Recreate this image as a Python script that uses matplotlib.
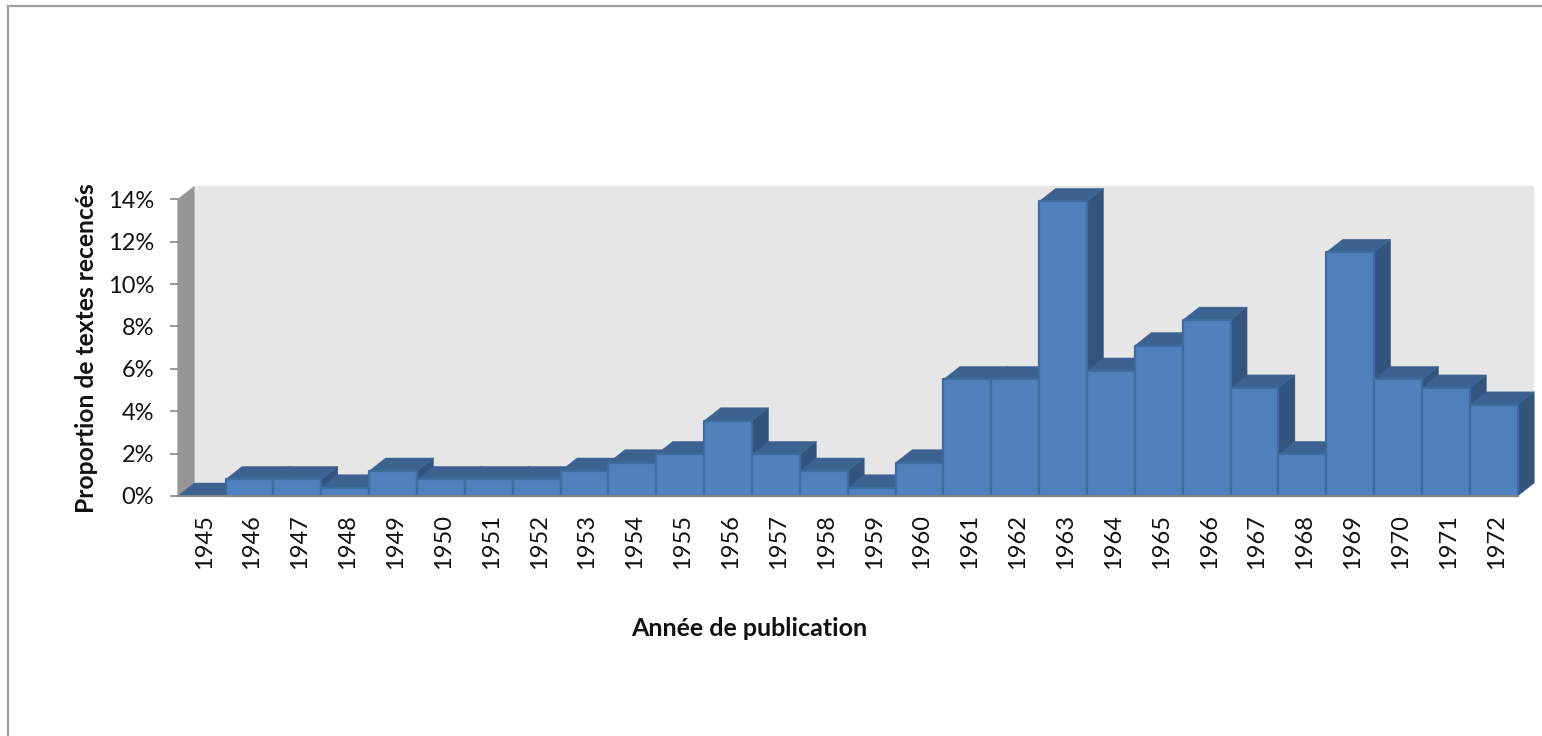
"""Recreate the 3D-style column chart of published texts per year."""

import matplotlib

matplotlib.use("Agg")
import matplotlib.pyplot as plt
from matplotlib.lines import Line2D
from matplotlib.patches import Polygon
from matplotlib.transforms import ScaledTranslation

OUTPUT_PATH = "out.png"

YEARS = [str(year) for year in range(1945, 1973)]
SHARES = [
    0.0, 0.78, 0.78, 0.39, 1.18, 0.78, 0.78, 0.78, 1.18, 1.57,
    1.96, 3.55, 1.96, 1.18, 0.39, 1.57, 5.5, 5.5, 13.9, 5.9,
    7.1, 8.3, 5.1, 1.96, 11.5, 5.5, 5.1, 4.3,
]
Y_TICKS = [0, 2, 4, 6, 8, 10, 12, 14]

FIG_W, FIG_H = 1542, 736
PLOT_LEFT, PLOT_RIGHT = 177.7, 1517.7
PLOT_TOP, PLOT_BOTTOM = 199.3, 496.0
DEPTH_PX_X, DEPTH_PX_Y = 16.5, 13.0

FONT = "Lato"
WALL_COLOR = "#E6E6E6"
SIDE_WALL_COLOR = "#969696"
FRONT_COLOR = "#4F81BD"
TOP_COLOR = "#3B6291"
SIDE_COLOR = "#32547F"
EDGE_COLOR = "#3F6C9E"
FRAME_COLOR = "#A0A0A0"


def add_poly(ax, points, color, edge=None, zorder=2):
    """Add one flat face of the fake 3D scene."""
    ax.add_patch(
        Polygon(
            points,
            closed=True,
            facecolor=color,
            edgecolor=edge if edge else color,
            linewidth=1.6 if edge else 0.3,
            joinstyle="round",
            clip_on=False,
            zorder=zorder,
        )
    )


def draw_walls(ax, dx, dy):
    """Draw the back wall and the left wall behind the columns."""
    x0, x1 = -0.5, len(YEARS) - 0.5
    y_max = Y_TICKS[-1]
    add_poly(ax, [(x0 + dx, dy), (x1 + dx, dy), (x1 + dx, y_max + dy), (x0 + dx, y_max + dy)], WALL_COLOR, zorder=1)
    add_poly(ax, [(x0, 0), (x0 + dx, dy), (x0 + dx, y_max + dy), (x0, y_max)], SIDE_WALL_COLOR, zorder=1)


def draw_columns(ax, dx, dy):
    """Paint columns left to right so each one covers its neighbour's side."""
    for i, value in enumerate(SHARES):
        left, right = i - 0.5, i + 0.5
        add_poly(ax, [(right, 0), (right + dx, dy), (right + dx, value + dy), (right, value)], SIDE_COLOR, zorder=2 + i * 0.01)
        add_poly(ax, [(left, value), (left + dx, value + dy), (right + dx, value + dy), (right, value)], TOP_COLOR, zorder=2 + i * 0.01)
        if value > 0:
            add_poly(ax, [(left, 0), (right, 0), (right, value), (left, value)], FRONT_COLOR, edge=EDGE_COLOR, zorder=2 + i * 0.01)


def main():
    fig = plt.figure(figsize=(FIG_W / 100, FIG_H / 100), dpi=100, facecolor="white")
    ax = fig.add_axes(
        [
            PLOT_LEFT / FIG_W,
            1 - PLOT_BOTTOM / FIG_H,
            (PLOT_RIGHT - PLOT_LEFT) / FIG_W,
            (PLOT_BOTTOM - PLOT_TOP) / FIG_H,
        ]
    )
    ax.set_xlim(-0.5, len(YEARS) - 0.5)
    ax.set_ylim(0, Y_TICKS[-1])
    ax.patch.set_visible(False)

    dx = DEPTH_PX_X / ((PLOT_RIGHT - PLOT_LEFT) / len(YEARS))
    dy = DEPTH_PX_Y / ((PLOT_BOTTOM - PLOT_TOP) / Y_TICKS[-1])
    draw_walls(ax, dx, dy)
    draw_columns(ax, dx, dy)

    for side in ["top", "right", "left"]:
        ax.spines[side].set_visible(False)
    ax.spines["bottom"].set_color("#868686")
    ax.spines["bottom"].set_linewidth(1.4)
    ax.spines["bottom"].set_zorder(5)

    ax.set_yticks(Y_TICKS, [f"{tick}%" for tick in Y_TICKS], fontfamily=FONT, fontsize=17, color="#111111")
    ax.set_xticks(range(len(YEARS)), YEARS, rotation=90, fontfamily=FONT, fontsize=17, color="#111111")
    ax.tick_params(axis="y", length=6, width=1.2, color="#868686", pad=11)
    ax.tick_params(axis="x", length=0, pad=13)

    # Year labels sit slightly right of the column centres in the original.
    shift = ScaledTranslation(2.5 / 100, 0, fig.dpi_scale_trans)
    for label in ax.get_xticklabels():
        label.set_transform(label.get_transform() + shift)

    fig.text(87 / FIG_W, 1 - 348 / FIG_H, "Proportion de textes recencés", rotation=90,
             ha="center", va="center", fontfamily=FONT, fontweight="bold", fontsize=17.7, color="#111111")
    fig.text(749 / FIG_W, 1 - 628 / FIG_H, "Année de publication",
             ha="center", va="center", fontfamily=FONT, fontweight="bold", fontsize=18, color="#111111")

    # Outer chart frame: cropped on the right and at the bottom.
    fig.add_artist(Line2D([8 / FIG_W, 8 / FIG_W], [0, 1 - 6 / FIG_H], color=FRAME_COLOR, linewidth=1.6))
    fig.add_artist(Line2D([8 / FIG_W, 1], [1 - 6 / FIG_H, 1 - 6 / FIG_H], color=FRAME_COLOR, linewidth=1.6))

    fig.savefig(OUTPUT_PATH, dpi=100)
    plt.close(fig)


if __name__ == "__main__":
    main()
